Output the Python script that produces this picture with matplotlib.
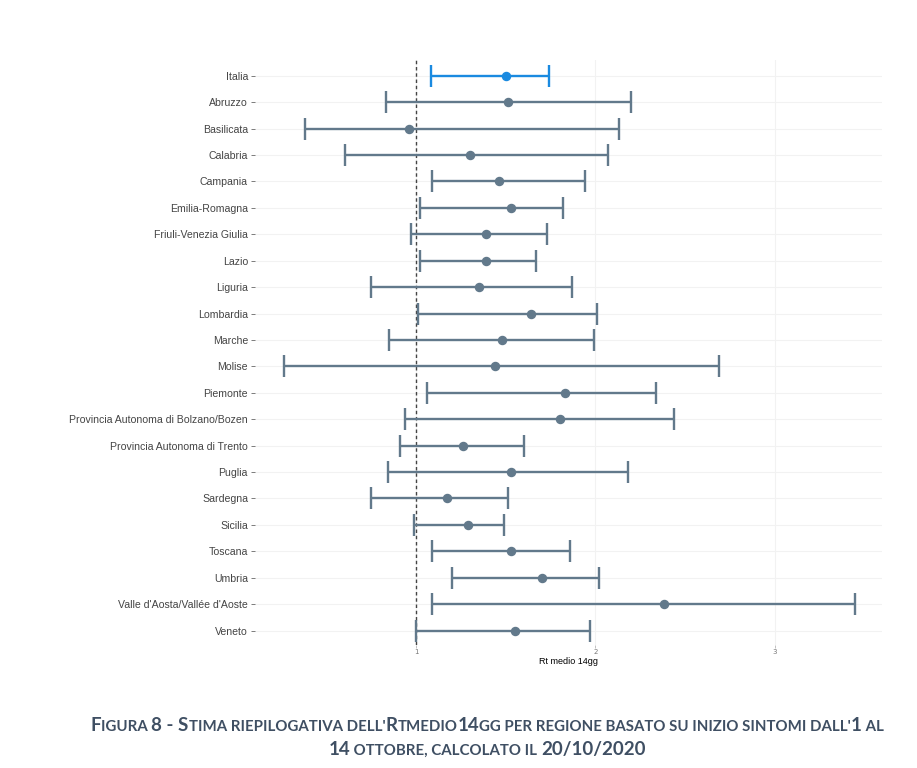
import matplotlib
matplotlib.use("Agg")
import matplotlib.pyplot as plt

regioni = ["Italia", "Abruzzo", "Basilicata", "Calabria", "Campania", "Emilia-Romagna",
           "Friuli-Venezia Giulia", "Lazio", "Liguria", "Lombardia", "Marche", "Molise",
           "Piemonte", "Provincia Autonoma di Bolzano/Bozen", "Provincia Autonoma di Trento",
           "Puglia", "Sardegna", "Sicilia", "Toscana", "Umbria",
           "Valle d'Aosta/Vallée d'Aoste", "Veneto"]
rt_medio = [1.50, 1.51, 0.96, 1.30, 1.46, 1.53, 1.39, 1.39, 1.35, 1.64, 1.48, 1.44,
            1.83, 1.80, 1.26, 1.53, 1.17, 1.29, 1.53, 1.70, 2.38, 1.55]
rt_low = [1.08, 0.83, 0.38, 0.60, 1.09, 1.02, 0.97, 1.02, 0.75, 1.01, 0.85, 0.26,
          1.06, 0.94, 0.91, 0.84, 0.75, 0.99, 1.09, 1.20, 1.09, 1.00]
rt_high = [1.74, 2.20, 2.13, 2.07, 1.94, 1.82, 1.73, 1.67, 1.87, 2.01, 1.99, 2.69,
           2.34, 2.44, 1.60, 2.18, 1.51, 1.49, 1.86, 2.02, 3.45, 1.97]

col_reg = "#62798b"
col_ita = "#1a8ae0"

fig = plt.figure(figsize=(9.17, 7.68), dpi=100)
ax = fig.add_axes([0.278, 0.16, 0.684, 0.762])

n = len(regioni)
ypos = list(range(n))
for i in ypos:
    c = col_ita if i == 0 else col_reg
    ax.errorbar(rt_medio[i], i,
                xerr=[[rt_medio[i] - rt_low[i]], [rt_high[i] - rt_medio[i]]],
                fmt="o", color=c, ecolor=c, elinewidth=1.7, capsize=8, capthick=1.7,
                markersize=5.8, zorder=3)

ax.axvline(1, color="#444444", linestyle=(0, (2.5, 2)), linewidth=1, zorder=2)

ax.set_xlim(0.1, 3.6)
ax.set_ylim(n - 1 + 0.55, -0.6)
ax.set_yticks(ypos)
ax.set_yticklabels(regioni, fontsize=7.6, color="#444444", family="Liberation Sans")
ax.set_xticks([1, 2, 3])
ax.set_xticklabels(["1", "2", "3"], fontsize=5, color="#777777")
ax.tick_params(axis="y", length=3, width=0.6, color="#666666", pad=2)
ax.tick_params(axis="x", length=2, width=0.5, color="#aaaaaa", pad=1)
ax.set_xlabel("Rt medio 14gg", fontsize=6.5, family="Liberation Sans", labelpad=1)
ax.grid(True, color="#f2f2f2", linewidth=0.8, zorder=0)
ax.set_axisbelow(True)
for s in ax.spines.values():
    s.set_visible(False)

# caption in small caps style
cap_col = "#3f4f63"
big, small = 13.5, 10.8
line1 = [("F", big), ("IGURA ", small), ("8 - S", big), ("TIMA RIEPILOGATIVA DELL'", small),
         ("R", big), ("TMEDIO", small), ("14", big), ("GG PER REGIONE BASATO SU INIZIO SINTOMI DALL'", small),
         ("1", big), (" AL", small)]
line2 = [("14", big), (" OTTOBRE, CALCOLATO IL ", small), ("20/10/2020", big)]

renderer = fig.canvas.get_renderer()


def draw_line(parts, y, xc=0.531):
    texts = []
    widths = []
    for s, fs in parts:
        t = fig.text(0, y, s, fontsize=fs, color=cap_col, fontweight="bold",
                     family="Lato", va="baseline", ha="left")
        w = t.get_window_extent(renderer).width / fig.bbox.width
        texts.append(t)
        widths.append(w)
    x = xc - sum(widths) / 2
    for t, w in zip(texts, widths):
        t.set_x(x)
        x += w


draw_line(line1, 1 - 731 / 768)
draw_line(line2, 1 - 755 / 768)

fig.savefig("out.png", dpi=100)
